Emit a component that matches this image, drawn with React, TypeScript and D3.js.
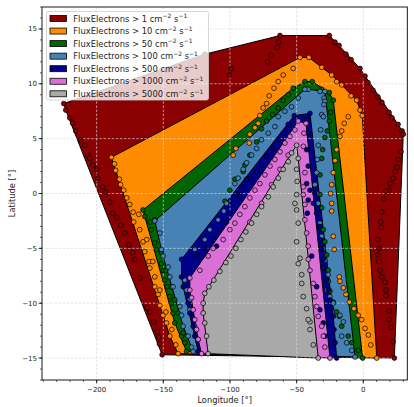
import React from 'react';
import * as d3 from 'd3';

type Pt = [number, number];

// flux thresholds (cm^-2 s^-1) and colours
const levelLabels = ['1', '10', '50', '100', '500', '1000', '5000'];
const levelColors = ['#8b0000', '#ff8c00', '#006400', '#4682b4', '#00008b', '#da70d6', '#a9a9a9'];

// [longitude, latitude] of contour points for each threshold
const flux1: Pt[] = [
  [-224.7, 8.2], [-223.2, 7.6], [-220.2, 6.9], [-218.0, 6.4], [-215.7, 5.7], [-212.0, 4.9], [-208.9, 4.4],
  [-206.7, 3.5], [-205.2, 3.2], [-202.9, 2.6], [-199.9, 2.2], [-199.2, 1.4], [-195.4, 0.6], [-193.2, 0.1],
  [-190.2, -0.8], [-187.9, -1.8], [-184.9, -2.2], [-181.9, -2.9], [-178.9, -3.6], [-175.9, -4.7], [-172.9, -5.4],
  [-171.4, -6.0], [-167.7, -7.7], [-162.2, -10.4], [-160.1, -10.8], [-157.1, -11.7], [-154.4, -12.6],
  [-153.4, -13.1], [-152.9, -13.7], [-150.9, -14.7],
  [-118.9, 12.7], [-62.5, 14.4], [-63.5, 13.8], [-64.6, 13.3], [-69.1, 12.6], [-71.8, 12.0], [-99.1, 11.4], [-100.3, 10.8],
  [-25.5, 14.4], [-21.2, 13.8], [-18.2, 13.5], [-13.0, 12.7], [-9.2, 12.2], [-2.5, 11.4], [1.3, 10.7], [3.5, 10.1],
  [7.3, 9.4], [11.0, 8.8], [14.0, 8.3], [19.3, 7.4], [21.5, 6.9], [26.1, 6.3], [29.1, 5.7], [30.0, 5.4],
  [28.3, 3.8], [26.1, 3.1], [25.3, 2.4], [23.8, 2.0], [22.3, 1.4], [20.0, 0.9], [19.3, 0.3], [16.8, 0.2],
  [15.3, -0.5], [13.8, -1.7], [13.1, -2.6], [13.5, -3.1], [11.0, -4.2], [11.8, -5.0], [11.0, -5.6], [11.8, -6.2],
  [12.5, -7.0], [14.0, -7.6], [16.3, -8.1], [17.0, -8.8], [17.0, -9.3], [19.3, -10.7], [19.3, -11.5], [20.8, -12.2],
  [22.3, -13.5], [23.3, -15.0],
];

const flux10: Pt[] = [
  [-188.9, 3.3], [-186.6, 2.7], [-185.7, 2.1], [-182.9, 1.3], [-182.1, 0.8], [-179.7, 0.3], [-177.4, -0.4],
  [-175.2, -1.0], [-172.7, -1.7], [-172.2, -2.6], [-167.7, -3.3], [-165.2, -4.4], [-163.9, -5.3], [-160.7, -6.2],
  [-160.1, -6.8], [-156.4, -7.6], [-156.4, -8.5], [-153.9, -9.2], [-152.6, -10.2], [-150.2, -11.1], [-147.6, -11.8],
  [-145.1, -13.0], [-138.9, -14.6],
  [-168.4, -1.9], [-162.4, -4.2], [-157.9, -6.2], [-152.6, -8.8], [-148.1, -10.8], [-143.6, -12.4], [-140.6, -13.8],
  [-47.5, 12.4], [-40.8, 12.4], [-52.6, 11.4], [-60.1, 10.8], [-63.8, 10.2], [-67.0, 9.6], [-70.6, 8.9], [-72.5, 8.2],
  [-75.1, 7.8], [-77.6, 7.1], [-78.8, 6.4], [-81.3, 6.0], [-85.1, 5.4], [-85.6, 4.6], [-95.6, 4.1], [-97.6, 3.5],
  [-31.2, 11.5], [-23.7, 10.8], [-20.0, 10.2], [-16.2, 9.9], [-9.2, 8.9], [-5.0, 8.5], [-2.5, 7.6], [-0.8, 7.1],
  [-11.3, 7.0], [-14.3, 6.4], [-16.2, 5.7], [-17.5, 5.2], [-20.0, 4.0], [-21.2, 3.0], [-22.5, 1.9], [-23.7, 0.8],
  [-24.5, 0.0], [-23.7, -0.9], [-23.7, -1.6], [-22.5, -3.9], [-21.8, -5.1], [-18.0, -7.6], [-17.5, -8.0],
  [-15.0, -8.6], [-13.0, -9.2], [-10.5, -9.9], [-7.0, -10.5], [-3.8, -11.1], [-1.2, -11.5], [1.3, -12.3],
  [3.8, -12.9], [5.6, -13.8], [10.1, -15.0],
];

const flux50: Pt[] = [
  [-165.2, -1.5], [-163.9, -2.1], [-160.1, -2.6], [-158.9, -3.3], [-156.4, -4.5], [-155.1, -5.1], [-151.4, -6.4],
  [-150.2, -7.0], [-148.9, -7.9], [-147.2, -8.5], [-145.1, -9.4], [-143.9, -10.0], [-142.7, -10.9], [-141.4, -11.8],
  [-136.3, -13.0], [-133.9, -13.6], [-132.6, -14.4],
  [-156.4, -2.4], [-151.4, -5.4], [-148.1, -7.0], [-143.9, -8.5], [-141.4, -9.7], [-138.9, -10.9], [-135.1, -12.7],
  [-38.3, 10.2], [-43.8, 10.2], [-52.6, 9.6], [-56.3, 9.0], [-60.1, 8.5], [-63.8, 7.8], [-68.0, 7.2], [-72.5, 6.6],
  [-76.3, 5.9], [-80.0, 4.7], [-85.1, 3.5], [-88.8, 2.6], [-90.1, 2.0], [-96.3, 1.3], [-100.1, 0.3], [-103.8, -0.7],
  [-31.2, 9.5], [-25.5, 9.2], [-22.5, 8.5], [-24.5, 7.4], [-25.5, 6.6], [-27.0, 5.7], [-28.8, 5.1], [-30.5, 4.0],
  [-31.2, 3.2], [-32.5, 1.7], [-32.5, -0.1], [-31.2, -1.3], [-30.0, -3.3], [-28.8, -4.4], [-27.5, -5.6],
  [-26.3, -7.0], [-26.3, -8.0], [-25.0, -8.9], [-22.5, -9.9], [-20.0, -10.8], [-18.0, -11.2], [-16.2, -12.1],
  [-11.3, -13.0], [-8.7, -13.6], [-3.8, -14.3], [-0.5, -15.0],
];

const flux100: Pt[] = [
  [-156.4, -2.5], [-152.6, -3.6], [-151.4, -5.1], [-150.2, -5.7], [-146.4, -6.7], [-145.1, -7.6], [-142.7, -8.5],
  [-137.6, -10.3], [-136.3, -11.1], [-135.1, -12.1], [-131.4, -13.0], [-128.8, -14.0], [-127.6, -14.4],
  [-133.9, -7.9], [-132.6, -8.8], [-130.1, -9.7], [-130.1, -10.6], [-126.4, -12.1], [-123.9, -13.3],
  [-102.6, -0.9], [-104.6, -1.6], [-108.9, -2.4], [-115.1, -3.3], [-118.9, -4.2], [-126.4, -5.1],
  [-41.3, 9.5], [-43.8, 9.5], [-48.8, 8.7], [-53.8, 7.9], [-58.8, 7.5], [-63.8, 7.0], [-66.3, 6.1], [-71.3, 5.5],
  [-76.3, 4.9], [-80.0, 4.1], [-83.8, 3.5], [-87.5, 2.8], [-90.1, 2.2], [-93.9, 1.4], [-96.3, 0.9],
  [-32.5, 9.3], [-29.5, 8.7], [-31.2, 7.2], [-32.0, 5.8], [-33.8, 4.4], [-34.5, 3.1], [-35.0, 1.9], [-36.3, 0.8],
  [-28.8, 9.3], [-28.8, 8.4], [-29.5, 8.1], [-30.0, 7.0],
  [-35.0, 0.0], [-33.8, -0.9], [-32.5, -2.7], [-31.2, -3.9], [-30.0, -5.0], [-28.8, -6.1], [-26.3, -7.4],
  [-27.5, -8.8], [-25.0, -9.4], [-22.5, -10.0], [-17.5, -11.1], [-15.0, -11.7], [-16.2, -13.0], [-12.5, -13.6],
  [-8.7, -14.3], [-6.2, -14.9],
];

const flux500: Pt[] = [
  [-51.8, 7.1], [-40.0, 7.3], [-56.3, 6.3], [-60.1, 5.5], [-63.8, 4.9], [-67.6, 4.1], [-72.5, 3.4], [-76.3, 2.6],
  [-80.0, 2.0], [-85.1, 1.4], [-90.1, 0.6], [-93.9, -0.1], [-97.6, -0.9], [-100.1, -1.8], [-102.6, -2.6],
  [-107.6, -3.3], [-112.6, -4.2], [-118.9, -5.0], [-125.1, -5.7], [-136.3, -6.0], [-136.3, -7.6], [-135.1, -8.5],
  [-131.4, -10.0], [-130.1, -10.9], [-127.6, -12.1], [-126.4, -13.0], [-123.9, -14.4],
  [-110.1, -4.8], [-87.5, 1.3], [-92.6, -0.3],
  [-42.5, 6.7], [-41.3, 5.5], [-42.5, 4.0], [-41.3, 2.5], [-40.0, 0.3], [-42.5, 0.9], [-41.3, -0.6], [-42.0, -1.8],
  [-36.3, 0.0], [-37.5, -0.9], [-35.0, -1.8], [-33.0, -3.0], [-32.5, -4.2], [-31.2, -5.0], [-30.0, -6.0],
  [-30.0, -6.8], [-27.5, -7.9], [-26.3, -8.8], [-25.0, -9.7], [-23.7, -10.5], [-22.5, -11.2], [-22.0, -12.4],
  [-21.2, -13.6], [-20.0, -15.0],
  [-38.7, -5.7], [-35.0, -8.5], [-32.5, -10.6], [-30.0, -11.8], [-28.8, -13.0],
];

const flux1000: Pt[] = [
  [-48.8, 6.6], [-43.0, 6.4], [-51.3, 5.8], [-55.0, 5.2], [-58.8, 4.6], [-62.5, 3.8], [-66.3, 3.1], [-70.0, 2.5],
  [-73.8, 1.7], [-77.6, 0.9], [-81.3, 0.3], [-85.1, -0.4], [-88.8, -1.2], [-92.6, -1.9], [-96.3, -2.7],
  [-100.1, -3.3], [-105.1, -4.2], [-112.6, -5.0], [-116.4, -5.7], [-122.6, -7.0], [-130.1, -7.7], [-130.1, -8.8],
  [-128.8, -9.5], [-127.6, -10.6], [-126.4, -11.5], [-125.1, -12.4], [-123.9, -13.3], [-121.3, -14.6],
  [-44.5, 5.5], [-45.0, 4.3], [-43.8, 1.9], [-45.0, 0.6], [-45.0, -0.1], [-43.8, -1.0], [-43.8, -2.4],
  [-42.5, -3.6], [-41.3, -4.8], [-41.3, -6.0], [-40.0, -7.0], [-37.5, -8.2], [-36.3, -9.4], [-35.0, -10.3],
  [-33.8, -11.2], [-31.2, -12.1], [-30.0, -13.0], [-28.8, -14.0], [-25.0, -15.0],
  [-56.3, 3.5], [-62.5, 2.2], [-68.8, 0.8], [-76.3, -0.9], [-85.1, -2.6],
];

const flux5000: Pt[] = [
  [-50.0, 4.4], [-53.8, 3.7], [-56.3, 2.9], [-60.1, 2.2], [-63.8, 1.4], [-67.6, 0.6], [-71.3, -0.3], [-76.3, -1.2],
  [-80.0, -1.9], [-83.8, -2.7], [-88.1, -3.5], [-91.8, -4.2], [-95.6, -5.0], [-99.3, -5.7], [-103.1, -6.3],
  [-107.6, -7.1], [-112.1, -7.9], [-115.8, -8.5], [-118.9, -9.1], [-120.1, -10.0], [-120.1, -10.9],
  [-118.9, -11.8], [-117.6, -13.0], [-116.4, -14.6],
  [-48.8, 3.2], [-50.0, 2.2], [-49.6, 1.1], [-50.0, -0.1], [-50.0, -1.5], [-48.8, -2.7], [-50.0, -4.4],
  [-47.5, -5.9], [-46.2, -7.4], [-45.0, -9.4], [-42.5, -10.5], [-40.0, -11.7], [-37.5, -13.8], [-33.8, -15.0],
  [-51.3, -0.9], [-48.8, -6.4], [-46.2, -8.2], [-41.3, -11.5], [-40.0, -12.4],
];

const levels = [flux1, flux10, flux50, flux100, flux500, flux1000, flux5000];

const xTicks = [-200, -150, -100, -50, 0];
const yTicks = [-15, -10, -5, 0, 5, 10, 15];
const xMinor = d3.range(-240, 31, 10);
const yMinor = d3.range(-17, 18, 1);

const W = 414;
const H = 407;
const font = 'DejaVu Sans, sans-serif';

const App: React.FC = () => {
  const x = d3.scaleLinear().domain([-241, 33]).range([42, 407.3]);
  const y = d3.scaleLinear().domain([-17, 17]).range([380, 7]);
  const [x0, x1] = x.range();
  const [y0, y1] = [y(17), y(-17)];

  const line = d3.line<Pt>().x(d => x(d[0])).y(d => y(d[1]));
  const hulls = levels.map(pts => d3.polygonHull(pts) as Pt[]);

  return (
    <svg width={W} height={H} style={{ position: 'absolute', left: 0, top: 0, background: '#fff' }}
      fontFamily={font}>
      <defs>
        <clipPath id="plot"><rect x={x0} y={y0} width={x1 - x0} height={y1 - y0} /></clipPath>
      </defs>

      <g clipPath="url(#plot)">
        {hulls.map((h, i) => (
          <path key={i} d={line(h) + 'Z'} fill={levelColors[i]} stroke="#000" strokeWidth={1}
            strokeLinejoin="round" />
        ))}
        {xTicks.map(t => (
          <line key={'gx' + t} x1={x(t)} x2={x(t)} y1={y0} y2={y1} stroke="#d9d9d9" strokeOpacity={0.85}
            strokeWidth={0.8} strokeDasharray="2.5,1.6" />
        ))}
        {yTicks.map(t => (
          <line key={'gy' + t} x1={x0} x2={x1} y1={y(t)} y2={y(t)} stroke="#d9d9d9" strokeOpacity={0.85}
            strokeWidth={0.8} strokeDasharray="2.5,1.6" />
        ))}
        {levels.map((pts, i) => (
          <g key={'p' + i}>
            {pts.map((d, j) => (
              <circle key={j} cx={x(d[0])} cy={y(d[1])} r={2.4} fill={levelColors[i]} stroke="#000"
                strokeWidth={0.7} />
            ))}
          </g>
        ))}
      </g>

      {/* axes frame */}
      <rect x={x0} y={y0} width={x1 - x0} height={y1 - y0} fill="none" stroke="#000" strokeWidth={0.9} />

      {xMinor.map(t => (
        <line key={'mx' + t} x1={x(t)} x2={x(t)} y1={y1} y2={y1 + 2} stroke="#000" strokeWidth={0.6} />
      ))}
      {yMinor.map(t => (
        <line key={'my' + t} x1={x0} x2={x0 - 2} y1={y(t)} y2={y(t)} stroke="#000" strokeWidth={0.6} />
      ))}
      {xTicks.map(t => (
        <g key={'tx' + t}>
          <line x1={x(t)} x2={x(t)} y1={y1} y2={y1 + 3.5} stroke="#000" strokeWidth={0.8} />
          <text x={x(t)} y={y1 + 12} fontSize={7} textAnchor="middle" fill="#222">
            {t < 0 ? '\u2212' + Math.abs(t) : t}
          </text>
        </g>
      ))}
      {yTicks.map(t => (
        <g key={'ty' + t}>
          <line x1={x0} x2={x0 - 3.5} y1={y(t)} y2={y(t)} stroke="#000" strokeWidth={0.8} />
          <text x={x0 - 5} y={y(t) + 2.5} fontSize={7} textAnchor="end" fill="#222">
            {t < 0 ? '\u2212' + Math.abs(t) : t}
          </text>
        </g>
      ))}

      <text x={(x0 + x1) / 2} y={403} fontSize={8.3} textAnchor="middle" fill="#222">Longitude [°]</text>
      <text transform={`translate(14.5, ${(y0 + y1) / 2}) rotate(-90)`} fontSize={8.3} textAnchor="middle"
        fill="#222">Latitude [°]</text>

      {/* legend */}
      <g>
        <rect x={46.5} y={11.5} width={162} height={88.5} rx={2} fill="#fff" fillOpacity={0.8}
          stroke="#cccccc" strokeWidth={0.8} />
        {levelLabels.map((lab, i) => {
          const cy = 18.5 + i * 12.55;
          return (
            <g key={'lg' + i}>
              <rect x={50} y={cy - 3} width={16.5} height={6} fill={levelColors[i]} stroke="#000"
                strokeWidth={0.8} />
              <text x={73.3} y={cy + 3} fontSize={8.4} fill="#222">
                {`FluxElectrons > ${lab} cm`}
                <tspan dy={-3.2} fontSize={6}>−2</tspan>
                <tspan dy={3.2}> s</tspan>
                <tspan dy={-3.2} fontSize={6}>−1</tspan>
              </text>
            </g>
          );
        })}
      </g>
    </svg>
  );
};

export default App;
